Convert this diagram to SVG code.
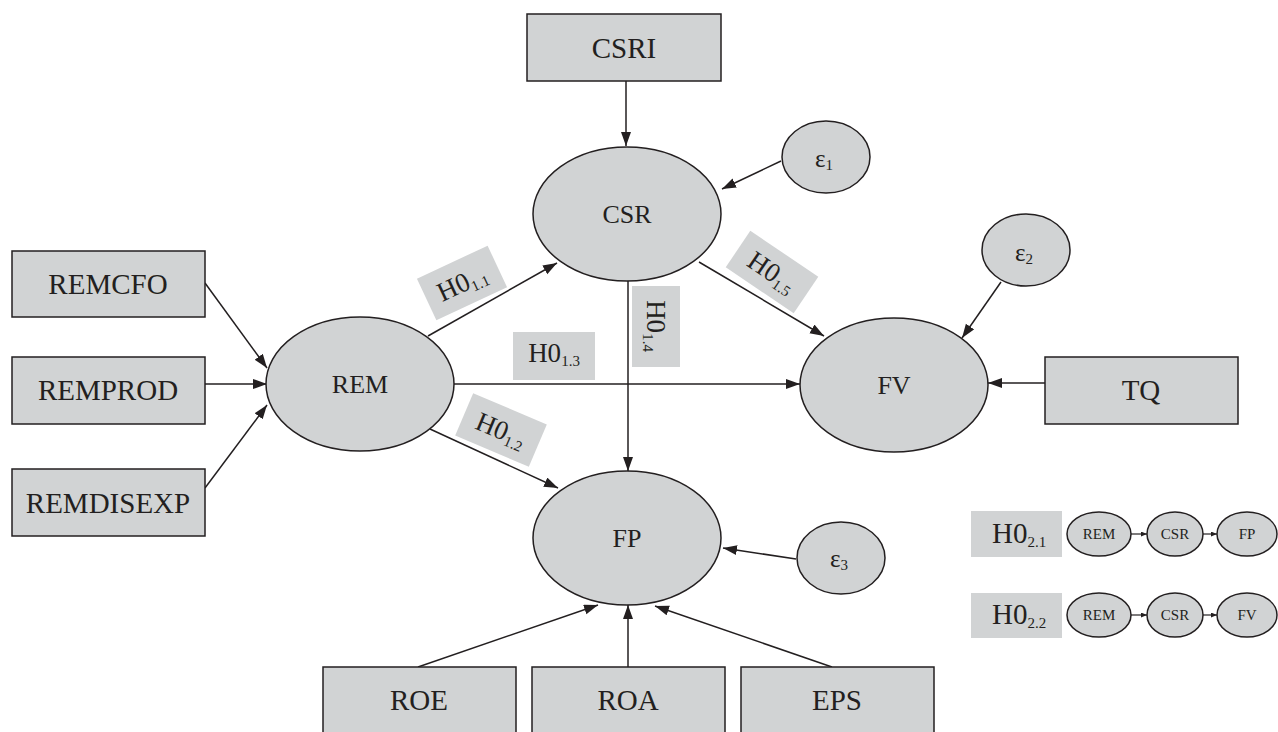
<svg xmlns="http://www.w3.org/2000/svg" width="1278" height="732" viewBox="0 0 1278 732">
<style>
.n{fill:#d1d3d4;stroke:#231f20;stroke-width:1.5}
.lb{fill:#d1d3d4;stroke:none}
.c{stroke:#231f20;stroke-width:1.5;fill:none}
.cs{stroke:#231f20;stroke-width:1.2;fill:none}
text{font-family:"Liberation Serif","Times New Roman",serif;fill:#231f20}
.bt{font-size:29px;text-anchor:middle}
.et{font-size:26px;text-anchor:middle}
.ht{font-size:27px;text-anchor:middle}
.st{font-size:15px}
.eps{font-size:25px}
.sm{font-size:15px;text-anchor:middle}
.lh{font-size:29px}
</style>
<defs>
<marker id="ah" markerUnits="userSpaceOnUse" markerWidth="15" markerHeight="11" refX="14" refY="5" orient="auto"><path d="M0,0 L14,5 L0,10 z" fill="#231f20"/></marker>
<marker id="as" markerUnits="userSpaceOnUse" markerWidth="7" markerHeight="5" refX="6" refY="2.5" orient="auto"><path d="M0,0 L6,2.5 L0,5 z" fill="#231f20"/></marker>
</defs>
<rect width="1278" height="732" fill="#ffffff"/>
<g id="connectors">
<line class="c" x1="626" y1="81" x2="626" y2="146" marker-end="url(#ah)"/>
<line class="c" x1="781" y1="161" x2="722" y2="189" marker-end="url(#ah)"/>
<line class="c" x1="205" y1="283" x2="267" y2="368" marker-end="url(#ah)"/>
<line class="c" x1="205" y1="384" x2="267" y2="384" marker-end="url(#ah)"/>
<line class="c" x1="205" y1="488" x2="267" y2="405" marker-end="url(#ah)"/>
<line class="c" x1="428" y1="336" x2="557" y2="263" marker-end="url(#ah)"/>
<line class="c" x1="454" y1="384" x2="800" y2="384" marker-end="url(#ah)"/>
<line class="c" x1="430" y1="429" x2="558" y2="488" marker-end="url(#ah)"/>
<line class="c" x1="699" y1="262" x2="824" y2="336" marker-end="url(#ah)"/>
<line class="c" x1="628" y1="281" x2="628" y2="471" marker-end="url(#ah)"/>
<line class="c" x1="1001" y1="282" x2="962" y2="338" marker-end="url(#ah)"/>
<line class="c" x1="1045" y1="383" x2="988" y2="383" marker-end="url(#ah)"/>
<line class="c" x1="796" y1="559" x2="723" y2="548" marker-end="url(#ah)"/>
<line class="c" x1="418" y1="667" x2="598" y2="605" marker-end="url(#ah)"/>
<line class="c" x1="628" y1="667" x2="628" y2="605" marker-end="url(#ah)"/>
<line class="c" x1="832" y1="667" x2="655" y2="606" marker-end="url(#ah)"/>
<line class="cs" x1="1131" y1="534" x2="1147" y2="534" marker-end="url(#as)"/>
<line class="cs" x1="1203" y1="534" x2="1217" y2="534" marker-end="url(#as)"/>
<line class="cs" x1="1131" y1="615" x2="1147" y2="615" marker-end="url(#as)"/>
<line class="cs" x1="1203" y1="615" x2="1217" y2="615" marker-end="url(#as)"/>
</g>
<g id="labels">
<g id="h011" transform="translate(462,283) rotate(-25)"><rect class="lb" x="-39" y="-23" width="78" height="46"/><text class="ht" x="0" y="9">H0<tspan class="st" dy="4">1.1</tspan></text></g>
<g id="h012" transform="translate(501,430) rotate(23)"><rect class="lb" x="-40" y="-23" width="80" height="46"/><text class="ht" x="0" y="9">H0<tspan class="st" dy="4">1.2</tspan></text></g>
<g id="h013"><rect class="lb" x="513" y="332" width="82" height="48"/><text class="ht" x="554" y="362">H0<tspan class="st" dy="4">1.3</tspan></text></g>
<g id="h014" transform="translate(656,326) rotate(90)"><rect class="lb" x="-40" y="-24" width="81" height="48"/><text class="ht" x="0" y="9">H0<tspan class="st" dy="4">1.4</tspan></text></g>
<g id="h015" transform="translate(772,272) rotate(34)"><rect class="lb" x="-41" y="-22" width="82" height="44"/><text class="ht" x="0" y="9">H0<tspan class="st" dy="4">1.5</tspan></text></g>
</g>
<g id="CSRI"><rect class="n" x="527" y="14" width="194" height="67"/><text class="bt" x="624" y="58">CSRI</text></g>
<g id="REMCFO"><rect class="n" x="12" y="251" width="193" height="66"/><text class="bt" x="108" y="294">REMCFO</text></g>
<g id="REMPROD"><rect class="n" x="12" y="357" width="193" height="67"/><text class="bt" x="108" y="400">REMPROD</text></g>
<g id="REMDISEXP"><rect class="n" x="12" y="469" width="193" height="67"/><text class="bt" x="108" y="513">REMDISEXP</text></g>
<g id="TQ"><rect class="n" x="1045" y="357" width="193" height="67"/><text class="bt" x="1141" y="400">TQ</text></g>
<g id="ROE"><rect class="n" x="323" y="667" width="193" height="80"/><text class="bt" x="419" y="710">ROE</text></g>
<g id="ROA"><rect class="n" x="532" y="667" width="193" height="80"/><text class="bt" x="628" y="710">ROA</text></g>
<g id="EPS"><rect class="n" x="741" y="667" width="193" height="80"/><text class="bt" x="837" y="710">EPS</text></g>
<g id="CSR"><ellipse class="n" cx="627" cy="214" rx="94" ry="67"/><text class="et" x="627" y="223">CSR</text></g>
<g id="REM"><ellipse class="n" cx="360" cy="384" rx="94" ry="67"/><text class="et" x="360" y="393">REM</text></g>
<g id="FV"><ellipse class="n" cx="894" cy="385" rx="94" ry="67"/><text class="et" x="894" y="394">FV</text></g>
<g id="FP"><ellipse class="n" cx="627" cy="538" rx="94" ry="67"/><text class="et" x="627" y="547">FP</text></g>
<g id="e1"><ellipse class="n" cx="826" cy="157" rx="44" ry="36"/><text class="eps" x="815" y="167">ε<tspan class="st" dy="3">1</tspan></text></g>
<g id="e2"><ellipse class="n" cx="1026" cy="250" rx="44" ry="36"/><text class="eps" x="1015" y="261">ε<tspan class="st" dy="3">2</tspan></text></g>
<g id="e3"><ellipse class="n" cx="841" cy="558" rx="44" ry="36"/><text class="eps" x="830" y="567">ε<tspan class="st" dy="3">3</tspan></text></g>
<g id="legend1">
<rect class="lb" x="971" y="511" width="91" height="46"/><text class="lh" x="992" y="543">H0<tspan class="st" dy="4">2.1</tspan></text>
<ellipse class="n" cx="1099" cy="534" rx="32" ry="22"/><text class="sm" x="1099" y="539">REM</text>
<ellipse class="n" cx="1175" cy="534" rx="28" ry="22"/><text class="sm" x="1175" y="539">CSR</text>
<ellipse class="n" cx="1247" cy="534" rx="30" ry="22"/><text class="sm" x="1247" y="539">FP</text>
</g>
<g id="legend2">
<rect class="lb" x="971" y="593" width="91" height="45"/><text class="lh" x="992" y="624">H0<tspan class="st" dy="4">2.2</tspan></text>
<ellipse class="n" cx="1099" cy="615" rx="32" ry="22"/><text class="sm" x="1099" y="620">REM</text>
<ellipse class="n" cx="1175" cy="615" rx="28" ry="22"/><text class="sm" x="1175" y="620">CSR</text>
<ellipse class="n" cx="1247" cy="615" rx="30" ry="22"/><text class="sm" x="1247" y="620">FV</text>
</g>
</svg>
